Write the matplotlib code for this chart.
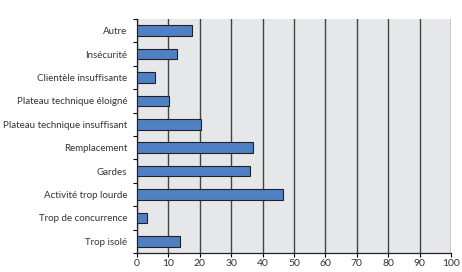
import matplotlib.pyplot as plt
import numpy as np

categories = ["Autre", "Insécurité", "Clientèle insuffisante", "Plateau technique éloigné",
              "Plateau technique insuffisant", "Remplacement", "Gardes",
              "Activité trop lourde", "Trop de concurrence", "Trop isolé"]
values = [17.6, 12.6, 5.6, 10.3, 20.5, 37.0, 36.0, 46.4, 3.1, 13.6]
xticks = list(range(0, 101, 10))

plt.rcParams['font.family'] = ['Lato', 'DejaVu Sans']

fig = plt.figure(figsize=(4.62, 2.72), dpi=100)
ax = fig.add_axes([0.2965, 0.0699, 0.6795, 0.8601])
ax.set_facecolor('#e6e7e9')

y = np.arange(len(categories))
ax.barh(y, values, height=0.45, color='#5080c4', edgecolor='#222222', linewidth=0.8, zorder=3)

ax.set_xlim(0, 100)
ax.set_ylim(len(categories) - 0.5, -0.5)
ax.set_xticks(xticks)
ax.set_xticklabels([str(t) for t in xticks], fontsize=7.5, color='#333333')
ax.set_yticks(y)
ax.set_yticklabels(categories, fontsize=7, color='#333333')
ax.set_yticks(np.arange(-0.5, len(categories), 1), minor=True)
ax.tick_params(axis='y', which='major', length=0, pad=7)
ax.tick_params(axis='y', which='minor', length=3, width=0.8, direction='out')
ax.tick_params(axis='x', length=3, width=0.8, pad=1)

ax.grid(axis='x', color='#444444', linewidth=1.0, zorder=1)
for s in ['top', 'right']:
    ax.spines[s].set_visible(False)
for s in ['left', 'bottom']:
    ax.spines[s].set_color('#222222')
    ax.spines[s].set_linewidth(0.9)

fig.savefig('out.png', dpi=100)
